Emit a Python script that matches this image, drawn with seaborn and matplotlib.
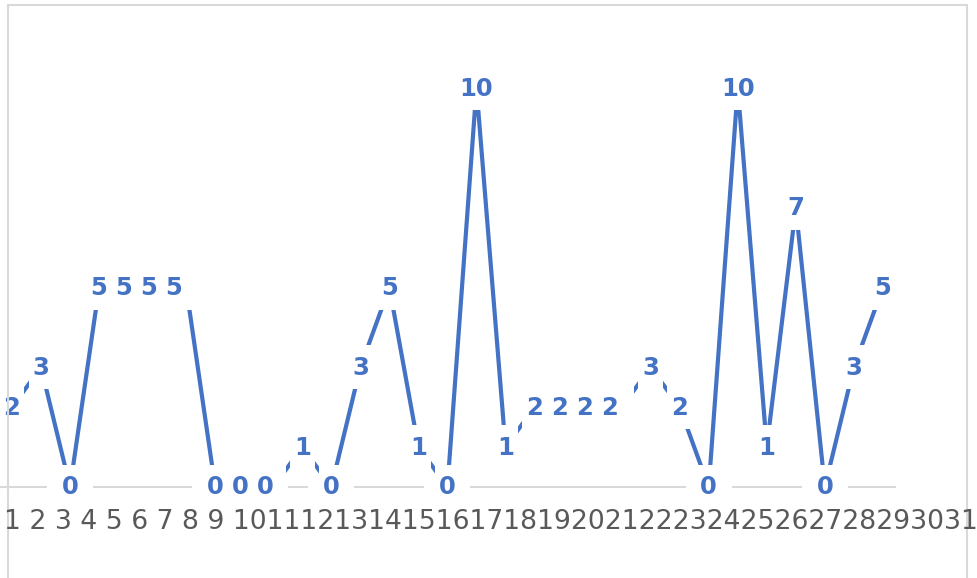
import matplotlib
matplotlib.use("Agg")
import matplotlib.pyplot as plt
from matplotlib.patches import Rectangle
import seaborn as sns
import numpy as np

# daily counts
days = list(range(1, 32))
counts = [2, 3, 0, 5, 5, 5, 5, 0, 0, 0, 1, 0, 3, 5, 1, 0, 10, 1,
          2, 2, 2, 2, 3, 2, 0, 10, 1, 7, 0, 3, 5]

BLUE = '#4472C4'
GRID = '#d9d9d9'
W, H = 978, 578

sns.set_style('white')
plt.rcParams['font.family'] = ['DejaVu Sans']

fig = plt.figure(figsize=(W / 100, H / 100), dpi=100)
ax = fig.add_axes([0, 0, 1, 1])
ax.set_axis_off()

# pixel scale of the plot area
step_px = 29.03     # px per category
unit_px = 39.9      # px per count
x0_px, y0_px = 12, 487
ax.set_xlim(1 - x0_px / step_px, 1 + (W - x0_px) / step_px)
ax.set_ylim(-(H - y0_px) / unit_px, y0_px / unit_px)
dx = 1 / step_px
dy = 1 / unit_px

# zero gridline
ax.hlines(0, 1 - x0_px / step_px, 1 + (896 - x0_px) / step_px,
          color=GRID, lw=1.5, zorder=1)

# label positions: repeated values get packed next to the first one
label_x = []
for i, (d, c) in enumerate(zip(days, counts)):
    if i > 0 and counts[i - 1] == c:
        label_x.append(label_x[-1] + 25 * dx)
    else:
        label_x.append(d)

# gap in gridline behind zero labels
for lx, c in zip(label_x, counts):
    if c == 0:
        ax.add_patch(Rectangle((lx - 23 * dx, -4 * dy), 46 * dx, 8 * dy,
                               facecolor='white', edgecolor='none', zorder=1.5))

sns.lineplot(x=days, y=counts, color=BLUE, linewidth=3, ax=ax, zorder=2,
             solid_capstyle='butt')


def knockout(cx, cy, n_chars):
    hw = (12.5 + 8.5 * (n_chars - 1)) * dx
    hh = 22 * dy
    ax.add_patch(Rectangle((cx - hw, cy - hh), 2 * hw, 2 * hh,
                           facecolor='white', edgecolor='none', zorder=3))


for d, lx, c in zip(days, label_x, counts):
    s = str(c)
    knockout(d, c, len(s))
    knockout(lx, c, len(s))
    ax.text(lx, c + 2 * dy, s, ha='center', va='center_baseline', fontsize=17.5,
            fontweight='bold', color=BLUE, zorder=5)

# chart border
bx0, bx1, by = 8 / W, 967 / W, 1 - 5 / H
for xs, ys in [([bx0, bx1], [by, by]), ([bx0, bx0], [by, -0.1]), ([bx1, bx1], [by, -0.1])]:
    fig.add_artist(plt.Line2D(xs, ys, transform=fig.transFigure,
                              color=GRID, lw=1.5, zorder=0.5))

# category labels run together as one line
tick_text = ''.join(f'{d} ' if d < 10 else f'{d}' for d in days)
fig.text(4 / W, 1 - 529 / H, tick_text, ha='left', va='baseline',
         fontsize=19.15, color='#595959')

fig.savefig('out.png', dpi=100)
